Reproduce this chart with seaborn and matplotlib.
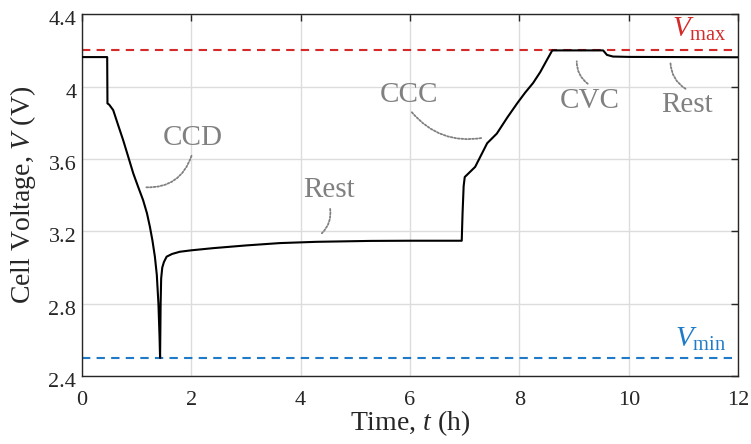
import numpy as np
import pandas as pd
import matplotlib
matplotlib.use("Agg")
import matplotlib.pyplot as plt
import matplotlib.transforms as mtransforms
import seaborn as sns

# ---- data ----
time_h = [0.0, 0.463, 0.468, 0.50, 0.573, 0.66, 0.755, 0.85, 0.94, 1.03, 1.12, 1.19,
          1.244, 1.29, 1.335, 1.37, 1.40, 1.42, 1.43, 1.44, 1.45, 1.47, 1.50, 1.55,
          1.65, 1.79, 2.0, 2.4, 3.0, 3.62, 4.29, 5.27, 6.0, 6.945, 6.96, 6.98,
          7.0, 7.19, 7.41, 7.586, 7.78, 7.96, 8.1, 8.25, 8.38, 8.5, 8.6, 9.0,
          9.53, 9.6, 9.71, 10.0, 11.0, 12.0]
voltage = [4.163, 4.163, 3.907, 3.90, 3.87, 3.79, 3.704, 3.61, 3.52, 3.445, 3.372, 3.30,
           3.225, 3.15, 3.06, 2.96, 2.80, 2.62, 2.50, 2.80, 2.94, 3.00, 3.03, 3.06,
           3.075, 3.087, 3.095, 3.107, 3.122, 3.135, 3.142, 3.147, 3.148, 3.148, 3.30, 3.45,
           3.50, 3.556, 3.687, 3.74, 3.83, 3.908, 3.965, 4.02, 4.08, 4.146, 4.20, 4.20,
           4.20, 4.175, 4.166, 4.164, 4.163, 4.162]
v_max = 4.2
v_min = 2.5
x_ticks = [0, 2, 4, 6, 8, 10, 12]
y_ticks = [2.4, 2.8, 3.2, 3.6, 4.0, 4.4]
y_tick_labels = ["2.4", "2.8", "3.2", "3.6", "4", "4.4"]
phase_labels = ["CCD", "Rest", "CCC", "CVC", "Rest"]
phase_text_xy = [(2.02, 3.715), (4.52, 3.428), (5.99, 3.951), (9.29, 3.92), (11.07, 3.897)]
phase_arrow_start = [(2.02, 3.632), (4.53, 3.339), (6.0, 3.87), (9.29, 4.007), (11.08, 3.98)]
phase_arrow_end = [(1.12, 3.444), (4.35, 3.179), (7.37, 3.719), (9.05, 4.155), (10.76, 4.146)]
phase_rad = [-0.4, -0.3, 0.3, -0.3, -0.3]

# ---- style ----
sns.set_theme(style="white")
plt.rcParams["font.family"] = ["Liberation Serif", "DejaVu Serif"]
plt.rcParams["mathtext.fontset"] = "custom"
plt.rcParams["mathtext.rm"] = "Liberation Serif"
plt.rcParams["mathtext.it"] = "Liberation Serif:italic"

dark = "#262626"
red = "#d42a2a"
blue = "#1f7bc8"
gray = "#808080"

fig = plt.figure(figsize=(7.51, 4.44), dpi=100)
ax = fig.add_axes([0.109, 0.153, 0.874, 0.815])

df = pd.DataFrame({"t": time_h, "V": voltage})
sns.lineplot(data=df, x="t", y="V", sort=False, estimator=None, color="black",
             linewidth=1.5, ax=ax, zorder=3)

ax.axhline(v_max, color=red, linestyle=(0, (4, 3)), linewidth=1.5, zorder=2)
ax.axhline(v_min, color=blue, linestyle=(0, (4, 3)), linewidth=1.5, zorder=2)

ax.set_xlim(0, 12)
ax.set_ylim(2.4, 4.4)
ax.set_xticks(x_ticks)
ax.set_xticklabels([str(v) for v in x_ticks])
ax.set_yticks(y_ticks)
ax.set_yticklabels(y_tick_labels)
ax.grid(True, color="#dcdcdc", linewidth=1.0, zorder=0)
ax.set_axisbelow(True)

ax.tick_params(direction="in", length=5, width=1.0, colors=dark, labelsize=16,
               top=True, right=True, labelcolor=dark)
ax.tick_params(axis="x", pad=11)
ax.tick_params(axis="y", pad=4)
for lbl in ax.get_yticklabels():
    lbl.set_transform(lbl.get_transform() +
                      mtransforms.ScaledTranslation(0, -4 / 100, fig.dpi_scale_trans))
for s in ax.spines.values():
    s.set_color(dark)
    s.set_linewidth(1.0)

ax.set_xlabel("Time, $t$ (h)", fontsize=20, color=dark)
ax.set_ylabel("Cell Voltage, $V$ (V)", fontsize=20, color=dark)
ax.xaxis.set_label_coords(0.5, -0.09)
ax.yaxis.set_label_coords(-0.067, 0.5)

for lab, txy, a0, a1, rad in zip(phase_labels, phase_text_xy, phase_arrow_start,
                                  phase_arrow_end, phase_rad):
    ax.text(txy[0], txy[1], lab, fontsize=21, color=gray, ha="center", va="center")
    ax.annotate("", xy=a1, xytext=a0,
                arrowprops=dict(arrowstyle="-", linestyle=(0, (1, 1)), color=gray,
                                linewidth=1.3, connectionstyle=f"arc3,rad={rad}"))

ax.text(11.78, 4.273, r"$V_{\mathrm{max}}$", fontsize=21, color=red, ha="right", va="baseline")
ax.text(11.78, 2.562, r"$V_{\mathrm{min}}$", fontsize=21, color=blue, ha="right", va="baseline")

fig.savefig("out.png", dpi=100)
